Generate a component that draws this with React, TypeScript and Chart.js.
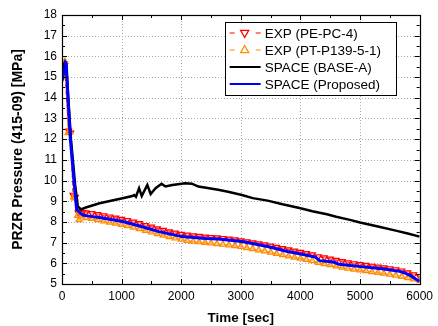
import { useEffect, useRef } from "react";
import { Chart, registerables } from "chart.js";

Chart.register(...registerables);

// ---- axis ticks ----
const xTickValues = [0, 1000, 2000, 3000, 4000, 5000, 6000];
const xMinorValues = [500, 1500, 2500, 3500, 4500, 5500];
const yTickValues = [5, 6, 7, 8, 9, 10, 11, 12, 13, 14, 15, 16, 17, 18];

// ---- series names ----
const seriesNames = ["EXP (PE-PC-4)", "EXP (PT-P139-5-1)", "SPACE (BASE-A)", "SPACE (Proposed)"];

// ---- EXP (PE-PC-4) ----
const expRedTime = [0, 40, 110, 145, 185, 225, 270, 300, 350, 400, 500, 600, 700, 800, 900, 1000, 1100, 1200, 1300, 1400, 1500, 1600, 1700, 1800, 1900, 2000, 2100, 2200, 2300, 2400, 2500, 2600, 2700, 2800, 2900, 3000, 3100, 3200, 3300, 3400, 3500, 3600, 3700, 3800, 3900, 4000, 4100, 4200, 4300, 4400, 4500, 4600, 4700, 4800, 4900, 5000, 5100, 5200, 5300, 5400, 5500, 5600, 5700, 5800, 5900, 6000];
const expRedValue = [15.3, 15.65, 12.4, 12.3, 9.3, 9.2, 8.45, 8.5, 8.48, 8.45, 8.42, 8.36, 8.31, 8.25, 8.2, 8.14, 8.08, 8.0, 7.93, 7.84, 7.76, 7.68, 7.6, 7.53, 7.47, 7.41, 7.37, 7.34, 7.31, 7.28, 7.26, 7.24, 7.21, 7.18, 7.14, 7.1, 7.05, 7.0, 6.95, 6.9, 6.84, 6.78, 6.72, 6.66, 6.6, 6.54, 6.48, 6.42, 6.33, 6.27, 6.21, 6.15, 6.09, 6.04, 5.99, 5.95, 5.91, 5.87, 5.83, 5.79, 5.75, 5.7, 5.64, 5.55, 5.46, 5.37];

// ---- EXP (PT-P139-5-1) ----
const expOrangeTime = [10, 50, 100, 130, 195, 215, 260, 285, 330, 400, 500, 600, 700, 800, 900, 1000, 1100, 1200, 1300, 1400, 1500, 1600, 1700, 1800, 1900, 2000, 2100, 2200, 2300, 2400, 2500, 2600, 2700, 2800, 2900, 3000, 3100, 3200, 3300, 3400, 3500, 3600, 3700, 3800, 3900, 4000, 4100, 4200, 4300, 4400, 4500, 4600, 4700, 4800, 4900, 5000, 5100, 5200, 5300, 5400, 5500, 5600, 5700, 5800, 5900, 6000];
const expOrangeValue = [15.0, 15.75, 12.3, 12.35, 9.2, 9.15, 8.3, 8.1, 8.28, 8.2, 8.16, 8.1, 8.04, 7.98, 7.93, 7.87, 7.81, 7.74, 7.66, 7.58, 7.5, 7.42, 7.35, 7.28, 7.21, 7.15, 7.1, 7.06, 7.03, 7.0, 6.97, 6.94, 6.91, 6.88, 6.84, 6.8, 6.75, 6.7, 6.64, 6.59, 6.53, 6.47, 6.41, 6.35, 6.29, 6.24, 6.18, 6.12, 6.03, 5.97, 5.92, 5.86, 5.8, 5.75, 5.71, 5.67, 5.63, 5.59, 5.55, 5.51, 5.46, 5.41, 5.36, 5.3, 5.24, 5.17];

// ---- SPACE (BASE-A) ----
const baseTime = [0, 20, 45, 70, 150, 220, 265, 320, 400, 630, 1017, 1180, 1211, 1240, 1293, 1338, 1431, 1487, 1570, 1670, 1736, 1850, 2068, 2178, 2289, 2620, 2786, 3018, 3200, 3449, 3700, 4002, 4200, 4444, 4600, 4831, 5000, 5300, 5600, 5800, 6000];
const baseValue = [15.2, 15.5, 15.7, 15.6, 12.0, 9.8, 8.75, 8.6, 8.7, 8.9, 9.14, 9.25, 9.3, 9.22, 9.63, 9.25, 9.79, 9.35, 9.63, 9.84, 9.71, 9.78, 9.87, 9.85, 9.71, 9.55, 9.46, 9.3, 9.15, 9.03, 8.85, 8.66, 8.52, 8.37, 8.25, 8.1, 7.97, 7.78, 7.58, 7.44, 7.29];

// ---- SPACE (Proposed) ----
const propTime = [0, 30, 60, 72, 100, 140, 200, 245, 300, 350, 450, 630, 1017, 1300, 1625, 2012, 2400, 2620, 3018, 3449, 3781, 4002, 4250, 4320, 4550, 4650, 5013, 5400, 5688, 5826, 6000];
const propValue = [14.8, 15.2, 15.7, 15.65, 14.0, 12.0, 10.0, 8.6, 8.45, 8.33, 8.28, 8.21, 8.02, 7.8, 7.53, 7.29, 7.2, 7.17, 7.05, 6.81, 6.57, 6.45, 6.3, 6.13, 6.06, 5.95, 5.84, 5.72, 5.6, 5.44, 5.12];

const COLORS = { red: "#ff0000", orange: "#ff8c00", black: "#000000", blue: "#0000ff" };
const FONT = "'Liberation Sans', Arial, sans-serif";

const toXY = (xs: number[], ys: number[]) => xs.map((x, i) => ({ x, y: ys[i] }));

function drawTri(ctx: CanvasRenderingContext2D, cx: number, cy: number, r: number, down: boolean) {
  ctx.beginPath();
  const s = down ? -1 : 1;
  ctx.moveTo(cx, cy - s * r);
  ctx.lineTo(cx - r * 0.9, cy + s * r * 0.6);
  ctx.lineTo(cx + r * 0.9, cy + s * r * 0.6);
  ctx.closePath();
  ctx.stroke();
}

const framePlugin = {
  id: "frameDeco",
  beforeDatasetsDraw(chart: any) {
    const { ctx, chartArea: a, scales } = chart;
    const x = scales.x, y = scales.y;
    ctx.save();
    ctx.strokeStyle = "#a8a8a8";
    ctx.lineWidth = 1;
    ctx.setLineDash([1, 2]);
    xTickValues.forEach((v) => {
      if (v <= 0 || v >= 6000) return;
      const px = Math.round(x.getPixelForValue(v)) + 0.5;
      ctx.beginPath();
      ctx.moveTo(px, a.top);
      ctx.lineTo(px, a.bottom);
      ctx.stroke();
    });
    yTickValues.forEach((v) => {
      if (v <= 5 || v >= 18) return;
      const py = Math.round(y.getPixelForValue(v)) + 0.5;
      ctx.beginPath();
      ctx.moveTo(a.left, py);
      ctx.lineTo(a.right, py);
      ctx.stroke();
    });
    ctx.restore();
  },
  afterDraw(chart: any) {
    const { ctx, chartArea: a, scales } = chart;
    const x = scales.x, y = scales.y;
    ctx.save();
    ctx.setLineDash([]);
    ctx.strokeStyle = "#000";
    ctx.lineWidth = 1;
    const tick = (x1: number, y1: number, x2: number, y2: number) => {
      ctx.beginPath();
      ctx.moveTo(x1, y1);
      ctx.lineTo(x2, y2);
      ctx.stroke();
    };
    xTickValues.forEach((v) => {
      const px = Math.round(x.getPixelForValue(v)) + 0.5;
      tick(px, a.bottom, px, a.bottom - 5);
      tick(px, a.top, px, a.top + 5);
    });
    xMinorValues.forEach((v) => {
      const px = Math.round(x.getPixelForValue(v)) + 0.5;
      tick(px, a.bottom, px, a.bottom - 3);
      tick(px, a.top, px, a.top + 3);
    });
    yTickValues.forEach((v) => {
      const py = Math.round(y.getPixelForValue(v)) + 0.5;
      tick(a.left, py, a.left + 5, py);
      tick(a.right, py, a.right - 5, py);
      if (v < 18) {
        const pm = Math.round(y.getPixelForValue(v + 0.5)) + 0.5;
        tick(a.left, pm, a.left + 3, pm);
        tick(a.right, pm, a.right - 3, pm);
      }
    });
    ctx.lineWidth = 1.2;
    ctx.strokeRect(Math.round(a.left) + 0.5, Math.round(a.top) + 0.5, Math.round(a.right - a.left), Math.round(a.bottom - a.top));

    // legend
    const lx = a.right - 195;
    const ly = a.top + 7;
    const lw = 171;
    const lh = 73;
    ctx.fillStyle = "#fff";
    ctx.fillRect(lx, ly, lw, lh);
    ctx.lineWidth = 1;
    ctx.strokeStyle = "#000";
    ctx.strokeRect(Math.round(lx) + 0.5, Math.round(ly) + 0.5, lw, lh);
    const rowY = [ly + 11, ly + 28, ly + 45, ly + 62];
    const sx0 = lx + 5, sx1 = lx + 36, mx = lx + 20;
    ctx.strokeStyle = COLORS.red;
    ctx.lineWidth = 1;
    tick(sx0, rowY[0], sx0 + 5, rowY[0]);
    tick(sx1 - 5, rowY[0], sx1, rowY[0]);
    ctx.lineWidth = 1.3;
    drawTri(ctx, mx, rowY[0], 4.5, true);
    ctx.strokeStyle = COLORS.orange;
    ctx.lineWidth = 1;
    tick(sx0, rowY[1], sx0 + 5, rowY[1]);
    tick(sx1 - 5, rowY[1], sx1, rowY[1]);
    ctx.lineWidth = 1.3;
    drawTri(ctx, mx, rowY[1], 4.5, false);
    ctx.strokeStyle = COLORS.black;
    ctx.lineWidth = 2;
    tick(sx0, rowY[2], sx1, rowY[2]);
    ctx.strokeStyle = COLORS.blue;
    tick(sx0, rowY[3], sx1, rowY[3]);
    ctx.fillStyle = "#000";
    ctx.font = `13.5px ${FONT}`;
    ctx.textAlign = "left";
    ctx.textBaseline = "middle";
    seriesNames.forEach((n, i) => ctx.fillText(n, lx + 40, rowY[i] + 1));

    // axis titles
    ctx.font = `bold 13.5px ${FONT}`;
    ctx.textAlign = "center";
    ctx.textBaseline = "middle";
    ctx.fillText("Time [sec]", (a.left + a.right) / 2, 318);
    ctx.save();
    ctx.translate(18, (a.top + a.bottom) / 2);
    ctx.rotate(-Math.PI / 2);
    ctx.font = `bold 14px ${FONT}`;
    ctx.fillText("PRZR Pressure (415-09) [MPa]", 0, 0);
    ctx.restore();
    ctx.restore();
  },
};

export default function App() {
  const ref = useRef<HTMLCanvasElement | null>(null);
  useEffect(() => {
    if (!ref.current) return;
    const chart = new Chart(ref.current, {
      type: "line",
      data: {
        datasets: [
          {
            label: seriesNames[3],
            data: toXY(propTime, propValue),
            borderColor: COLORS.blue,
            borderWidth: 3,
            pointRadius: 0,
            tension: 0,
            order: 0,
          },
          {
            label: seriesNames[2],
            data: toXY(baseTime, baseValue),
            borderColor: COLORS.black,
            borderWidth: 2.5,
            pointRadius: 0,
            tension: 0,
            order: 1,
          },
          {
            label: seriesNames[1],
            data: toXY(expOrangeTime, expOrangeValue),
            borderColor: COLORS.orange,
            borderWidth: 1,
            borderDash: [4, 3],
            pointStyle: "triangle",
            pointRadius: 3.5,
            pointBorderWidth: 1.2,
            pointBorderColor: COLORS.orange,
            pointBackgroundColor: "rgba(255,160,60,0.5)",
            tension: 0,
            order: 2,
          },
          {
            label: seriesNames[0],
            data: toXY(expRedTime, expRedValue),
            borderColor: COLORS.red,
            borderWidth: 1,
            borderDash: [4, 3],
            pointStyle: "triangle",
            rotation: 180,
            pointRadius: 3.5,
            pointBorderWidth: 1.2,
            pointBorderColor: COLORS.red,
            pointBackgroundColor: "rgba(255,80,80,0.4)",
            tension: 0,
            order: 3,
          },
        ] as any,
      },
      options: {
        animation: false,
        responsive: false,
        maintainAspectRatio: false,
        layout: { padding: { top: 15, right: 14, left: 0, bottom: 0 } },
        plugins: { legend: { display: false }, tooltip: { enabled: false } },
        scales: {
          x: {
            type: "linear",
            min: 0,
            max: 6000,
            afterFit: (s: any) => { s.height = 42; },
            ticks: { stepSize: 1000, color: "#000", font: { family: FONT, size: 12 }, padding: 5, maxRotation: 0, callback: (v: any) => String(v) },
            grid: { display: false, drawTicks: false },
            border: { display: false },
          },
          y: {
            type: "linear",
            min: 5,
            max: 18,
            afterFit: (s: any) => { s.width = 62; },
            ticks: { stepSize: 1, color: "#000", font: { family: FONT, size: 12 }, padding: 5, callback: (v: any) => String(v) },
            grid: { display: false, drawTicks: false },
            border: { display: false },
          },
        },
      } as any,
      plugins: [framePlugin],
    });
    return () => chart.destroy();
  }, []);
  return (
    <div style={{ position: "fixed", left: 0, top: 0, width: 438, height: 326, background: "#fff" }}>
      <canvas ref={ref} width={438} height={326} style={{ width: 438, height: 326 }} />
    </div>
  );
}
